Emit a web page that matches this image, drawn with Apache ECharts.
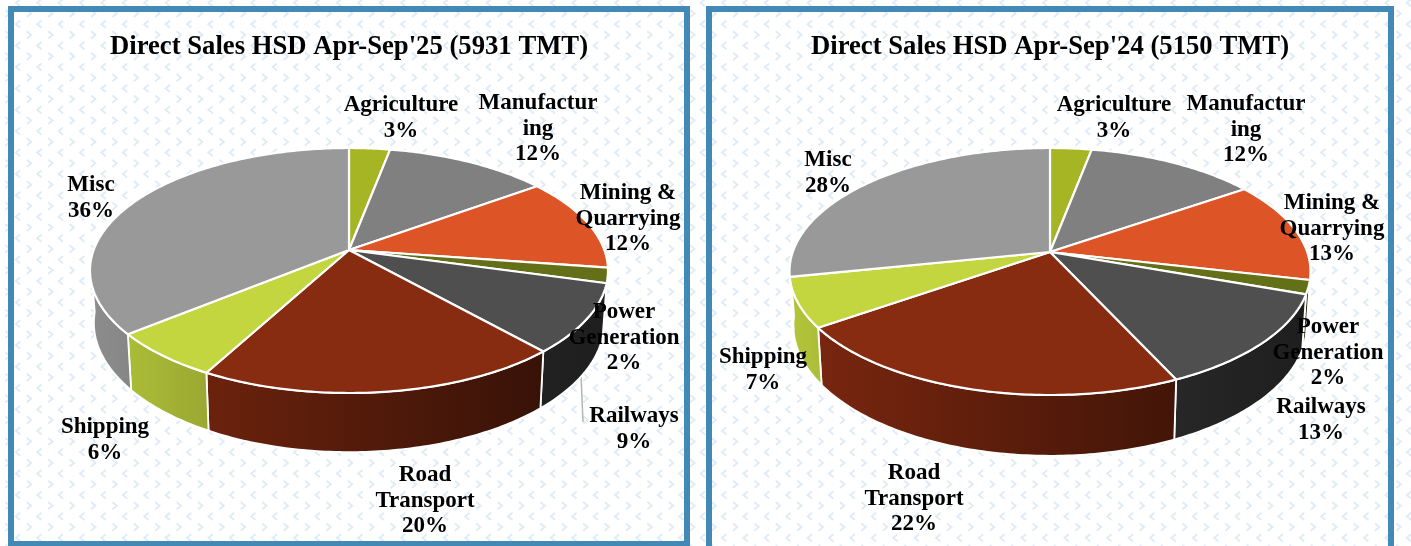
<!DOCTYPE html>
<html>
<head>
<meta charset="utf-8">
<style>html,body{margin:0;padding:0;background:#fff}#c{width:1411px;height:546px}</style>
<script src="https://cdn.jsdelivr.net/npm/echarts@6/dist/echarts.min.js"></script>
</head>
<body>
<div id="c"></div>
<script>
// ---- data ----
const categories = ['Agriculture','Manufactur\ning','Mining &\nQuarrying','Power\nGeneration','Railways','Road\nTransport','Shipping','Misc'];
const shares2025 = [3.0,12.0,12.3,2.0,9.1,19.5,6.2,35.9];
const shares2024 = [3.0,12.4,13.2,1.8,12.7,22.2,6.5,28.2];
const title2025 = "Direct Sales HSD Apr-Sep'25 (5931 TMT)";
const title2024 = "Direct Sales HSD Apr-Sep'24 (5150 TMT)";
const sliceColors = ['#a5b523','#808080','#dd5426','#647018','#4f4f4f','#872b11','#c3d63f','#999999'];

// ---- layout (styles and positions only) ----
const FONT = '"Liberation Serif"';
const labelPos2025 = [[401,118],[538,129],[628,219],[624,338],[634,429],[425,501],[105,440],[91,198]];
const labelPos2024 = [[1114,118],[1246,130],[1332,229],[1328,353],[1321,420],[914,499],[763,370],[828,173]];
const geom2025 = {cx:349,cy:250,rx:259,up:102,down:143,depth:51};
const geom2024 = {cx:1050,cy:252,rx:260.5,up:104,down:143,depth:53};

function tile(){
  const P=21.4,N=5,S=Math.round(P*N);
  const cv=document.createElement('canvas');cv.width=S;cv.height=S;
  const g=cv.getContext('2d');
  g.fillStyle='#fff';g.fillRect(0,0,S,S);
  g.strokeStyle='#dfebf6';g.lineWidth=1.9;
  function chev(x,y,d){
    g.beginPath();g.moveTo(x-d*2.2,y-3.6);g.lineTo(x+d*2.2,y);g.lineTo(x-d*2.2,y+3.6);g.stroke();
  }
  for(let i=-1;i<=N;i++)for(let j=-1;j<=N;j++){
    chev(18%P+i*P,67%P+j*P,-1);
    chev(29%P+i*P,77.7%P+j*P,1);
  }
  return cv;
}

function projector(g){
  const k=(g.down-g.up)/(g.down+g.up);
  const B=g.up*(1+k), A=g.rx*Math.sqrt(1-k*k), s=0.985;
  return {
    top(a){const X=Math.sin(a),Y=Math.cos(a),w=1+k*Y;return [g.cx+A*X/w,g.cy-B*Y/w];},
    bot(a){const X=Math.sin(a),Y=Math.cos(a),w=1+k*Y;return [g.cx+s*A*X/w,g.cy-s*B*Y/w+g.depth/w];}
  };
}
function shade(hex,f){
  const n=parseInt(hex.slice(1),16);
  const c=[n>>16,(n>>8)&255,n&255].map(v=>Math.round(v*f));
  return 'rgb('+c.join(',')+')';
}
function angles(values,i){
  const total=values.reduce((a,b)=>a+b,0);
  let c=0;for(let j=0;j<i;j++)c+=values[j];
  return [c/total*2*Math.PI,(c+values[i])/total*2*Math.PI];
}
function arc(fn,a0,a1){
  const n=Math.max(2,Math.ceil((a1-a0)/0.015)),pts=[];
  for(let t=0;t<=n;t++)pts.push(fn(a0+(a1-a0)*t/n));
  return pts;
}
function wallSeries(values,g){
  const p=projector(g),lo=95*Math.PI/180,hi=265*Math.PI/180;
  return {type:'custom',coordinateSystem:'none',silent:true,z:2,clip:false,
    data:values.map((v,i)=>[i,v]),
    renderItem(params,api){
      const i=api.value(0);let [a0,a1]=angles(values,i);
      a0=Math.max(a0,lo);a1=Math.min(a1,hi);
      if(a1<=a0)return {type:'group',children:[]};
      const t=arc(p.top,a0,a1),b=arc(p.bot,a0,a1).reverse();
      const xs=t.concat(b).map(q=>q[0]),xa=Math.min(...xs),xb=Math.max(...xs);
      const fac=x=>Math.max(0.38,0.92-0.58*(x-(g.cx-g.rx))/(2*g.rx));
      return {type:'polygon',shape:{points:t.concat(b)},
        style:{stroke:'#fff',lineWidth:1.8,
          fill:new echarts.graphic.LinearGradient(xa,0,xb,0,[
            {offset:0,color:shade(sliceColors[i],fac(xa))},
            {offset:1,color:shade(sliceColors[i],fac(xb))}],true)}};
    }};
}
function topSeries(values,g){
  const p=projector(g);
  return {type:'custom',coordinateSystem:'none',silent:true,z:3,clip:false,
    data:values.map((v,i)=>[i,v]),
    renderItem(params,api){
      const i=api.value(0),[a0,a1]=angles(values,i);
      return {type:'polygon',shape:{points:[[g.cx,g.cy]].concat(arc(p.top,a0,a1))},
        style:{fill:sliceColors[i],stroke:'#fff',lineWidth:2.2,lineJoin:'round'}};
    }};
}
function labelSeries(values,pos){
  const total=values.reduce((a,b)=>a+b,0);
  return {type:'custom',coordinateSystem:'none',silent:true,z:5,clip:false,
    data:values.map((v,i)=>[i,v]),
    renderItem(params,api){
      const i=api.value(0);
      return {type:'text',style:{
        text:categories[i]+'\n'+Math.round(api.value(1)/total*100)+'%',
        x:pos[i][0],y:pos[i][1],align:'center',verticalAlign:'middle',
        fontFamily:FONT,fontWeight:'bold',fontSize:23,lineHeight:25.5,fill:'#000'}};
    }};
}
const frame=(x,w,h)=>({type:'rect',z:-5,silent:true,shape:{x:x,y:9,width:w,height:h},
  style:{fill:'none',stroke:'#4389b5',lineWidth:6}});
const leader=(x1,y1,x2,y2)=>({type:'line',z:1,silent:true,shape:{x1,y1,x2,y2},style:{stroke:'#b4b4b4',lineWidth:1.5}});
const titleStyle={fontFamily:FONT,fontWeight:'bold',fontSize:26.7,color:'#000'};

const chart=echarts.init(document.getElementById('c'),null,{renderer:'canvas',width:1411,height:546});
chart.setOption({
  animation:false,
  backgroundColor:{image:tile(),repeat:'repeat'},
  title:[
    {text:title2025,left:349,top:47,padding:0,textAlign:'center',textVerticalAlign:'middle',textStyle:titleStyle},
    {text:title2024,left:1050,top:47,padding:0,textAlign:'center',textVerticalAlign:'middle',textStyle:titleStyle}
  ],
  graphic:[frame(11,676,535),frame(709,682,560),leader(581,375,583,422),leader(1305,318,1303,346)],
  series:[
    wallSeries(shares2025,geom2025),topSeries(shares2025,geom2025),labelSeries(shares2025,labelPos2025),
    wallSeries(shares2024,geom2024),topSeries(shares2024,geom2024),labelSeries(shares2024,labelPos2024)
  ]
});
</script>
</body>
</html>
